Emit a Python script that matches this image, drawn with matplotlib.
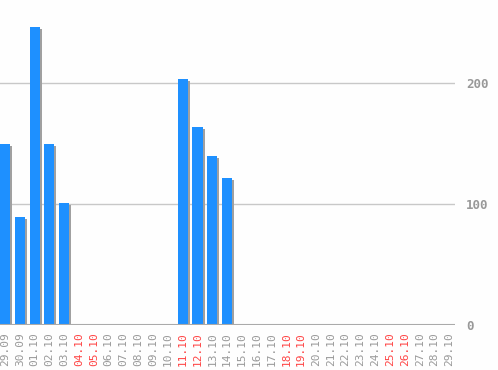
import matplotlib
matplotlib.use("Agg")
import matplotlib.pyplot as plt
import matplotlib.transforms as mtransforms

dates = ["29.09", "30.09", "01.10", "02.10", "03.10", "04.10", "05.10", "06.10",
         "07.10", "08.10", "09.10", "10.10", "11.10", "12.10", "13.10", "14.10",
         "15.10", "16.10", "17.10", "18.10", "19.10", "20.10", "21.10", "22.10",
         "23.10", "24.10", "25.10", "26.10", "27.10", "28.10", "29.10"]
values = [150, 89, 247, 150, 101, 0, 0, 0, 0, 0, 0, 0, 204, 164, 140, 122,
          0, 0, 0, 0, 0, 0, 0, 0, 0, 0, 0, 0, 0, 0, 0]
weekends = ["04.10", "05.10", "11.10", "12.10", "18.10", "19.10", "25.10", "26.10"]
yticks = [0, 100, 200]

fig = plt.figure(figsize=(4.98, 3.70), dpi=100)
fig.patch.set_facecolor("#fefefe")
ax = fig.add_axes([0.0, 0.1216, 0.914, 0.8784])
ax.set_facecolor("#fefefe")

x = list(range(len(dates)))
shadow_tr = mtransforms.offset_copy(ax.transData, fig=fig, x=2, y=-2, units="dots")
ax.bar(x, values, width=0.68, color="#a0a0a0", transform=shadow_tr, zorder=2)
ax.bar(x, values, width=0.68, color="#1e90ff", zorder=3)

ax.set_xlim(-0.34, 30.4)
ax.set_ylim(0, 269)

for t in yticks[1:]:
    ax.axhline(t, color="#c8c8c8", lw=1, zorder=1)
ax.axhline(0, color="#aaaaaa", lw=1.5, zorder=4)

for s in ax.spines.values():
    s.set_visible(False)

ax.yaxis.tick_right()
ax.set_yticks(yticks)
ax.set_yticklabels([str(t) for t in yticks], family="DejaVu Sans Mono",
                   fontsize=9, color="#999999", fontweight="bold")
ax.tick_params(axis="y", length=0, pad=8)

ax.set_xticks(x)
ax.set_xticklabels(dates, rotation=90, family="DejaVu Sans Mono", fontsize=8)
shift = mtransforms.ScaledTranslation(2 / 100, 0, fig.dpi_scale_trans)
for lbl, d in zip(ax.get_xticklabels(), dates):
    lbl.set_color("#ff4444" if d in weekends else "#999999")
    lbl.set_transform(lbl.get_transform() + shift)
ax.tick_params(axis="x", length=0, pad=5)

fig.savefig("out.png", dpi=100, facecolor=fig.get_facecolor())
